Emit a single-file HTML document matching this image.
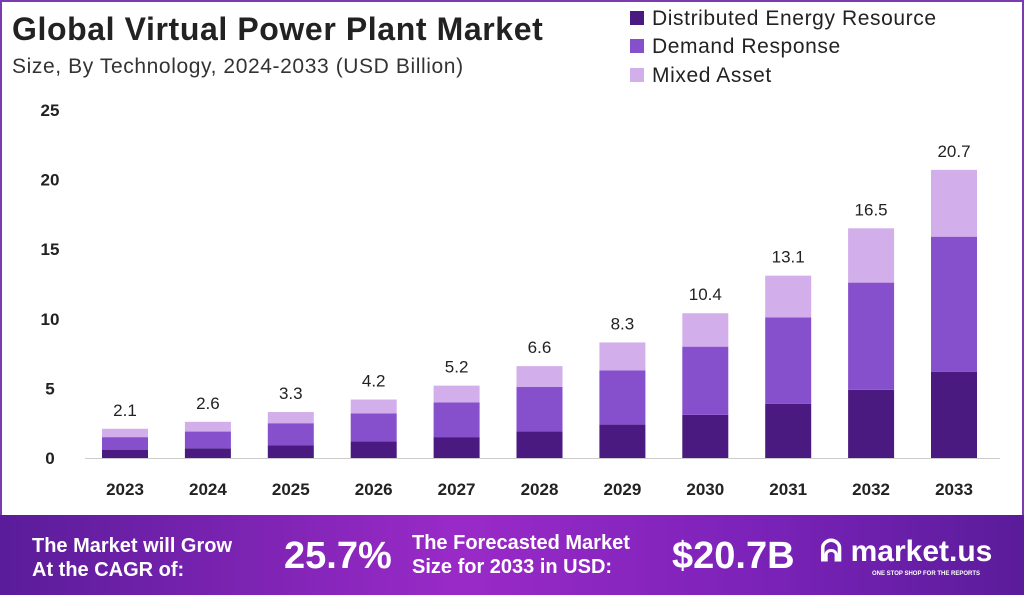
<!DOCTYPE html>
<html><head><meta charset="utf-8"><style>
body{margin:0;width:1024px;height:595px;overflow:hidden;background:#fff;font-family:"Liberation Sans",sans-serif;}
#wrap{position:absolute;left:0;top:0;width:1020px;height:591px;border:2px solid #7a3bb0;border-bottom:none;}
.t{position:absolute;white-space:nowrap;}
#footer{position:absolute;left:0;top:515px;width:1024px;height:80px;background:linear-gradient(90deg,#5a1c9a 0%,#9a2ac8 45%,#7a22b8 75%,#5a1c9a 100%);}
.ft{position:absolute;color:#fff;font-weight:bold;white-space:nowrap;}
</style></head><body>
<div id="wrap"></div>
<div class="t" style="left:12px;top:11px;font-size:32px;font-weight:bold;color:#222;letter-spacing:0.6px">Global Virtual Power Plant Market</div>
<div class="t" style="left:12px;top:55px;font-size:21px;color:#333;letter-spacing:0.6px">Size, By Technology, 2024-2033 (USD Billion)</div>
<div>
<div class="t" style="left:630px;top:7px;font-size:21px;color:#222;letter-spacing:0.6px"><span style="display:inline-block;width:14px;height:14px;background:#4a1a80;margin-right:8px"></span>Distributed Energy Resource</div>
<div class="t" style="left:630px;top:35px;font-size:21px;color:#222;letter-spacing:0.6px"><span style="display:inline-block;width:14px;height:14px;background:#8650cc;margin-right:8px"></span>Demand Response</div>
<div class="t" style="left:630px;top:64px;font-size:21px;color:#222;letter-spacing:0.6px"><span style="display:inline-block;width:14px;height:14px;background:#d2aeea;margin-right:8px"></span>Mixed Asset</div>
</div>
<svg id="chart" width="1024" height="515" style="position:absolute;left:0;top:0"></svg>
<div id="footer">
<div class="ft" style="left:32px;top:19px;font-size:20px;line-height:24px">The Market will Grow<br>At the CAGR of:</div>
<div class="ft" style="left:284px;top:20px;font-size:38px">25.7%</div>
<div class="ft" style="left:412px;top:16px;font-size:20px;line-height:24px">The Forecasted Market<br>Size for 2033 in USD:</div>
<div class="ft" style="left:672px;top:20px;font-size:38px">$20.7B</div>
<div class="ft" style="left:820px;top:20px;font-size:30px">ᕱ <span style="font-size:30px">market.us</span></div>
<div class="ft" style="left:872px;top:56px;font-size:6px">ONE STOP SHOP FOR THE REPORTS</div>
</div>
<script>
const categories=["2023","2024","2025","2026","2027","2028","2029","2030","2031","2032","2033"];
const der=[0.6,0.7,0.9,1.2,1.5,1.9,2.4,3.1,3.9,4.9,6.2];
const demand=[0.9,1.2,1.6,2.0,2.5,3.2,3.9,4.9,6.2,7.7,9.7];
const mixed=[0.6,0.7,0.8,1.0,1.2,1.5,2.0,2.4,3.0,3.9,4.8];
const totals=["2.1","2.6","3.3","4.2","5.2","6.6","8.3","10.4","13.1","16.5","20.7"];
const yTicks=[0,5,10,15,20,25];
const svg=document.getElementById('chart');const NS='http://www.w3.org/2000/svg';
const y=v=>458-v*13.92;const x=i=>125+i*82.9;const bw=46;
function el(t,a){const e=document.createElementNS(NS,t);for(const k in a)e.setAttribute(k,a[k]);svg.appendChild(e);return e;}
yTicks.forEach(v=>{const t=el('text',{x:50,y:y(v)+6,'text-anchor':'middle','font-size':17,'font-weight':'bold',fill:'#222','font-family':'Liberation Sans'});t.textContent=v;

});
const ax=el('line',{x1:85,x2:1000,y1:458.5,y2:458.5,stroke:'#ccc'});


categories.forEach((c,i)=>{
 let base=0;
 [[der,'#4a1a80','der'],[demand,'#8650cc','demand-response'],[mixed,'#d2aeea','mixed-asset']].forEach(([arr,col,nm])=>{
  const r=el('rect',{x:x(i)-bw/2,y:y(base+arr[i]),width:bw,height:arr[i]*13.92,fill:col});
  
  
  base+=arr[i];});
 const tt=el('text',{x:x(i),y:y(base)-13,'text-anchor':'middle','font-size':17,fill:'#222','font-family':'Liberation Sans'});tt.textContent=totals[i];
 
 
 const xl=el('text',{x:x(i),y:495,'text-anchor':'middle','font-size':17,'font-weight':'bold',fill:'#222','font-family':'Liberation Sans'});xl.textContent=c;
 
 
});
</script>
</body></html>
